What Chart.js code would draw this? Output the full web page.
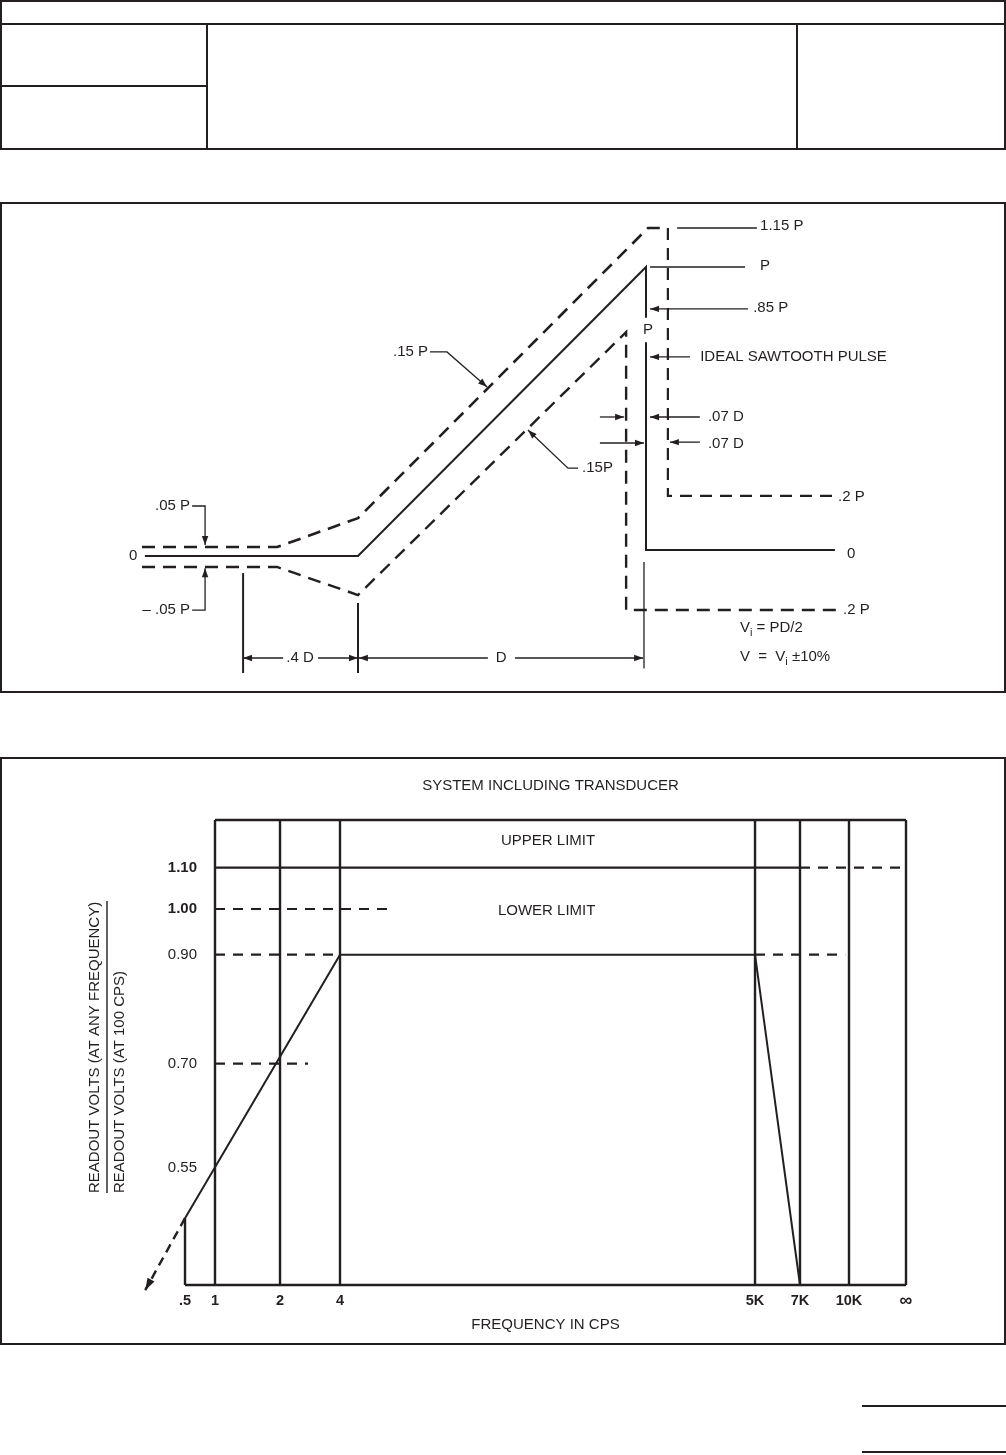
<!DOCTYPE html>
<html>
<head>
<meta charset="utf-8">
<script src="https://cdn.jsdelivr.net/npm/chart.js@4.4.0/dist/chart.umd.min.js"></script>
<style>
  body { margin: 0; background: #fff; width: 1006px; height: 1455px; position: relative; overflow: hidden; }
  .ln { position: absolute; background: #231f20; }
  .box { position: absolute; border: 2px solid #231f20; box-sizing: border-box; }
  canvas { position: absolute; }
</style>
</head>
<body>
<!-- header table -->
<div class="box" style="left:0;top:0;width:1006px;height:150px"></div>
<div class="ln" style="left:0;top:23px;width:1006px;height:2px"></div>
<div class="ln" style="left:206px;top:24px;width:2px;height:125px"></div>
<div class="ln" style="left:796px;top:24px;width:2px;height:125px"></div>
<div class="ln" style="left:0;top:85px;width:207px;height:2px"></div>

<div class="box" style="left:0;top:202px;width:1006px;height:491px"></div>
<canvas id="pulseChart" width="1002" height="487" style="left:2px;top:204px"></canvas>

<div class="box" style="left:0;top:757px;width:1006px;height:588px"></div>
<canvas id="freqChart" width="1002" height="584" style="left:2px;top:759px"></canvas>

<div class="ln" style="left:862px;top:1405px;width:144px;height:2px"></div>
<div class="ln" style="left:862px;top:1451px;width:144px;height:2px"></div>

<script>
// ------------------------
// Sawtooth pulse (x in D, y in P)
// ------------------------
const idealX = [-0.74, 0, 1, 1, 1, 1, 1, 1.656];
const idealY = [0, 0, 1, 0.824, null, 0.74, 0.021, 0.021];
const upperX = [-0.75, -0.281, 0, 1.007, 1.049];
const upperY = [0.031, 0.031, 0.131, 1.135, 1.135];
const upperDropX = [1.076, 1.076, 1.646];
const upperDropY = [1.135, 0.208, 0.208];
const lowerX = [-0.75, -0.281, 0, 0.931, 0.931, 1.67];
const lowerY = [-0.038, -0.038, -0.135, 0.775, -0.187, -0.187];

// ------------------------
// Frequency response
// ------------------------
const freqLabels = [".5", "1", "2", "4", "5K", "7K", "10K", "\u221e"];
const freqPos = [-4.34, 0, 9.41, 18.09, 78.15, 84.66, 91.75, 100]; // position along the (non-scaled) axis
const ratioTicks = [1.10, 1.00, 0.90, 0.70, 0.55];
const ratioRange = [0.42, 1.228];
const respX = [-4.34, 18.09, 78.15, 84.66];
const respY = [0.49, 0.90, 0.90, 0.42];
const extrapX = [-4.34, -10.1];
const extrapY = [0.49, 0.415];
const upperLimitX = [0, 84.66];
const upperLimitDashX = [84.66, 100];
const upperLimitY = 1.10;
const lowerLimit100X = [0, 25.3];
const lowerLimit090aX = [0, 18.09];
const lowerLimit090bX = [78.15, 91.2];
const lowerLimit070X = [0, 13.46];

const INK = "#231f20";
const FONT = '"Liberation Sans", Arial, sans-serif';

function line(xs, ys, opts) {
    return Object.assign({
        data: xs.map((x, i) => ({ x: x, y: Array.isArray(ys) ? ys[i] : ys })),
        showLine: true, pointRadius: 0, borderColor: INK, borderWidth: 2,
        tension: 0, spanGaps: false, clip: false
    }, opts || {});
}

function arrowHead(ctx, x1, y1, x2, y2, len, w) {
    const a = Math.atan2(y2 - y1, x2 - x1);
    ctx.beginPath();
    ctx.moveTo(x2, y2);
    ctx.lineTo(x2 - len * Math.cos(a) + w * Math.sin(a), y2 - len * Math.sin(a) - w * Math.cos(a));
    ctx.lineTo(x2 - len * Math.cos(a) - w * Math.sin(a), y2 - len * Math.sin(a) + w * Math.cos(a));
    ctx.closePath();
    ctx.fill();
}

function drawText(ctx, x, y, txt, align, size, weight) {
    size = size || 15;
    const segs = typeof txt === "string" ? [[txt]] : txt;
    const fonts = segs.map(s => (weight || "normal") + " " + (s[1] ? size - 4 : size) + "px " + FONT);
    let total = 0;
    const widths = segs.map((s, i) => { ctx.font = fonts[i]; const w = ctx.measureText(s[0]).width; total += w; return w; });
    let cx = align === "right" ? x - total : align === "center" ? x - total / 2 : x;
    ctx.textAlign = "left";
    ctx.textBaseline = "middle";
    segs.forEach((s, i) => {
        ctx.font = fonts[i];
        ctx.fillText(s[0], cx, s[1] ? y + 5 : y);
        cx += widths[i];
    });
}

// leaders: [[x,y], ...], arrow at last point when flagged
const pulseLeaders = [
    { pts: [[-0.576, 0.173], [-0.531, 0.173], [-0.531, 0.038]], arrow: true },
    { pts: [[-0.576, -0.187], [-0.531, -0.187], [-0.531, -0.042]], arrow: true },
    { pts: [[0.25, 0.706], [0.309, 0.706], [0.448, 0.585]], arrow: true },
    { pts: [[0.764, 0.304], [0.729, 0.304], [0.590, 0.436]], arrow: true },
    { pts: [[1.108, 1.135], [1.385, 1.135]] },
    { pts: [[1.014, 1.0], [1.344, 1.0]] },
    { pts: [[1.354, 0.855], [1.014, 0.855]], arrow: true },
    { pts: [[1.153, 0.689], [1.014, 0.689]], arrow: true },
    { pts: [[1.187, 0.481], [1.014, 0.481]], arrow: true },
    { pts: [[0.840, 0.481], [0.924, 0.481]], arrow: true },
    { pts: [[1.187, 0.394], [1.083, 0.394]], arrow: true },
    { pts: [[0.840, 0.391], [0.993, 0.391]], arrow: true },
    { pts: [[-0.26, -0.353], [-0.399, -0.353]], arrow: true },
    { pts: [[-0.139, -0.353], [0, -0.353]], arrow: true },
    { pts: [[0.451, -0.353], [0.003, -0.353]], arrow: true },
    { pts: [[0.545, -0.353], [0.99, -0.353]], arrow: true },
    { pts: [[-0.399, -0.059], [-0.399, -0.405]], w: 2 },
    { pts: [[0, -0.163], [0, -0.405]], w: 2 },
    { pts: [[0.993, -0.021], [0.993, -0.389]] }
];

const pulseText = [
    [-0.781, 0, "0", "center"],
    [-0.583, 0.173, ".05 P", "right"],
    [-0.583, -0.187, "\u2013 .05 P", "right"],
    [-0.201, -0.353, ".4 D", "center"],
    [0.497, -0.353, "D", "center"],
    [0.243, 0.706, ".15 P", "right"],
    [0.778, 0.304, ".15P", "left"],
    [1.396, 1.142, "1.15 P", "left"],
    [1.396, 1.003, "P", "left"],
    [1.372, 0.858, ".85 P", "left"],
    [1.007, 0.782, "P", "center"],
    [1.188, 0.689, "IDEAL SAWTOOTH PULSE", "left"],
    [1.215, 0.481, ".07 D", "left"],
    [1.215, 0.388, ".07 D", "left"],
    [1.667, 0.204, ".2 P", "left"],
    [1.698, 0.007, "0", "left"],
    [1.684, -0.187, ".2 P", "left"],
    [1.326, -0.249, [["V"], ["i", 1], [" = PD/2"]], "left"],
    [1.326, -0.349, [["V  =  V"], ["i", 1], [" \u00b110%"]], "left"]
];

const pulseNotes = {
    id: "pulseNotes",
    afterDatasetsDraw(chart) {
        const ctx = chart.ctx, sx = chart.scales.x, sy = chart.scales.y;
        ctx.save();
        ctx.strokeStyle = INK; ctx.fillStyle = INK;
        pulseLeaders.forEach(l => {
            const p = l.pts.map(q => [sx.getPixelForValue(q[0]), sy.getPixelForValue(q[1])]);
            ctx.lineWidth = l.w || 1.3;
            ctx.beginPath();
            p.forEach((q, i) => i ? ctx.lineTo(q[0], q[1]) : ctx.moveTo(q[0], q[1]));
            ctx.stroke();
            if (l.arrow) {
                const a = p[p.length - 2], b = p[p.length - 1];
                arrowHead(ctx, a[0], a[1], b[0], b[1], 9, 3.2);
            }
        });
        pulseText.forEach(t => drawText(ctx, sx.getPixelForValue(t[0]), sy.getPixelForValue(t[1]), t[2], t[3], 15));
        ctx.restore();
    }
};

// calibration of the pulse drawing: 1 D and 1 P in pixels
const P1 = { x0: 356, ux: 288, y0: 352, uy: 289, w: 1002, h: 487 };

new Chart(document.getElementById("pulseChart").getContext("2d"), {
    type: "scatter",
    data: {
        datasets: [
            line(idealX, idealY, { borderWidth: 2 }),
            line(upperX, upperY, { borderWidth: 2.6, borderDash: [13, 8] }),
            line(upperDropX, upperDropY, { borderWidth: 2.2, borderDash: [12, 8] }),
            line(lowerX, lowerY, { borderWidth: 2.4, borderDash: [13, 8] })
        ]
    },
    options: {
        responsive: false, animation: false, events: [],
        layout: { padding: 0 },
        plugins: { legend: { display: false }, tooltip: { enabled: false } },
        scales: {
            x: { type: "linear", display: false, min: -P1.x0 / P1.ux, max: (P1.w - P1.x0) / P1.ux },
            y: { type: "linear", display: false, min: (P1.y0 - P1.h) / P1.uy, max: P1.y0 / P1.uy }
        }
    },
    plugins: [pulseNotes]
});

// ------------------------
// Frequency response chart
// ------------------------
const freqNotes = {
    id: "freqNotes",
    afterDatasetsDraw(chart) {
        const ctx = chart.ctx, sx = chart.scales.x, sy = chart.scales.y, ca = chart.chartArea;
        ctx.save();
        ctx.fillStyle = INK; ctx.strokeStyle = INK;
        // arrow at the extrapolated end
        const a = [sx.getPixelForValue(extrapX[0]), sy.getPixelForValue(extrapY[0])];
        const b = [sx.getPixelForValue(extrapX[1]), sy.getPixelForValue(extrapY[1])];
        arrowHead(ctx, a[0], a[1], b[0], b[1], 12, 4);
        // tick labels
        ratioTicks.forEach((v, i) => drawText(ctx, ca.left - 18, sy.getPixelForValue(v), v.toFixed(2), "right", 15, i < 2 ? "bold" : "normal"));
        freqLabels.forEach((t, i) => drawText(ctx, sx.getPixelForValue(freqPos[i]), ca.bottom + 16, t, "center", i === 7 ? 18 : 14.5, "bold"));
        drawText(ctx, (ca.left + ca.right) / 2 - 10, ca.top - 34, "SYSTEM INCLUDING TRANSDUCER", "center", 15);
        drawText(ctx, sx.getPixelForValue(48.2), sy.getPixelForValue(1.17), "UPPER LIMIT", "center", 15);
        drawText(ctx, sx.getPixelForValue(48.0), sy.getPixelForValue(0.995), "LOWER LIMIT", "center", 15);
        drawText(ctx, (ca.left + ca.right) / 2 - 15, ca.bottom + 40, "FREQUENCY IN CPS", "center", 15);
        // y title as a fraction
        const yb = ca.bottom - 92;
        [["READOUT VOLTS (AT ANY FREQUENCY)", ca.left - 120], ["READOUT VOLTS (AT 100 CPS)", ca.left - 95]].forEach(t => {
            ctx.save();
            ctx.translate(t[1], yb);
            ctx.rotate(-Math.PI / 2);
            drawText(ctx, 0, 0, t[0], "left", 15);
            ctx.restore();
        });
        ctx.lineWidth = 1.4;
        ctx.beginPath();
        ctx.moveTo(ca.left - 108, yb);
        ctx.lineTo(ca.left - 108, yb - 292);
        ctx.stroke();
        ctx.restore();
    }
};

const frame = [
    line([0, 100], ratioRange[1], { borderWidth: 2.4 }),
    line([freqPos[0], 100], ratioRange[0], { borderWidth: 2.4 }),
    line([freqPos[0], freqPos[0]], [ratioRange[0], respY[0]], { borderWidth: 2.4 })
];
freqPos.slice(1).forEach(p => frame.push(line([p, p], ratioRange, { borderWidth: 2.4 })));

new Chart(document.getElementById("freqChart").getContext("2d"), {
    type: "scatter",
    data: {
        datasets: frame.concat([
            line(upperLimitX, upperLimitY, { borderWidth: 2.2 }),
            line(upperLimitDashX, upperLimitY, { borderWidth: 2.2, borderDash: [10, 8] }),
            line(lowerLimit100X, 1.00, { borderWidth: 2.2, borderDash: [10, 8] }),
            line(lowerLimit090aX, 0.90, { borderWidth: 2.2, borderDash: [10, 8] }),
            line(lowerLimit090bX, 0.90, { borderWidth: 2.2, borderDash: [10, 8] }),
            line(lowerLimit070X, 0.70, { borderWidth: 2.2, borderDash: [10, 8] }),
            line(respX, respY, { borderWidth: 2 }),
            line(extrapX, extrapY, { borderWidth: 2.4, borderDash: [9, 6] })
        ])
    },
    options: {
        responsive: false, animation: false, events: [],
        layout: { padding: { left: 213, right: 98, top: 61, bottom: 58 } },
        plugins: { legend: { display: false }, tooltip: { enabled: false } },
        scales: {
            x: { type: "linear", display: false, min: 0, max: 100 },
            y: { type: "logarithmic", display: false, min: ratioRange[0], max: ratioRange[1] }
        }
    },
    plugins: [freqNotes]
});
</script>
</body>
</html>
